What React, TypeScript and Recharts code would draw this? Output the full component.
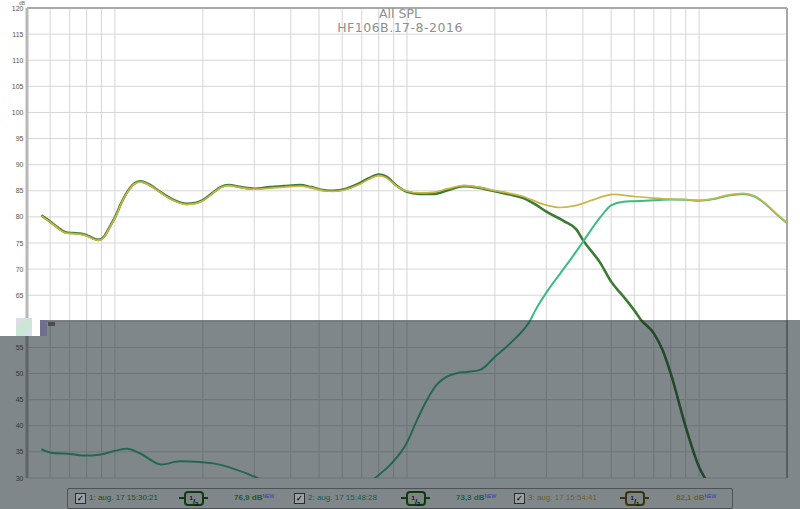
import { LineChart, Line, XAxis, YAxis, CartesianGrid, ReferenceLine } from "recharts"

// axis ticks
const freqTicks = [50, 60, 70, 80, 90, 100, 200, 300, 400, 500, 600, 700, 800, 900, 1000, 2000, 3000, 4000, 5000, 6000, 7000, 8000, 9000, 10000, 20000]
const freqLabels = ["50", "60", "70", "80", "90", "100", "200", "300", "400", "500", "600", "700", "800", "900", "1k", "2k", "3k", "4k", "5k", "6k", "7k", "8k", "9k", "10k", "20,0k Hz"]
const dbTicks = [30, 35, 40, 45, 50, 55, 60, 65, 70, 75, 80, 85, 90, 95, 100, 105, 110, 115, 120]

// 1: woofer (dark green)
const wooferFreq = [56, 60, 64, 68, 72, 76, 80, 84, 88, 92, 96, 100, 105, 110, 116, 122, 130, 142, 158, 176, 190, 200, 215, 230, 245, 270, 300, 340, 380, 430, 470, 520, 560, 620, 680, 740, 800, 850, 920, 1000, 1100, 1230, 1380, 1560, 1750, 2000, 2250, 2500, 2750, 3000, 3470, 3800, 4000, 4600, 5000, 5500, 6000, 6300, 7000, 7500, 8000, 9000, 10000, 10700, 11500]
const wooferDb = [80.3, 79.1, 77.9, 77.0, 76.9, 76.8, 76.5, 75.9, 75.6, 76.3, 78.1, 79.9, 82.6, 84.7, 86.3, 86.8, 86.3, 84.9, 83.3, 82.5, 82.7, 83.2, 84.5, 85.7, 86.1, 85.7, 85.4, 85.7, 85.9, 86.1, 85.7, 85.1, 85.0, 85.4, 86.3, 87.4, 88.1, 87.7, 86.0, 84.8, 84.4, 84.4, 85.1, 85.9, 85.6, 84.9, 84.3, 83.6, 82.4, 81.0, 79.1, 77.6, 75.6, 71.1, 67.6, 64.8, 62.1, 60.4, 57.7, 54.5, 50.0, 39.8, 32.1, 29.0, 25.0]

// 2: tweeter (teal)
const tweeterFreq = [56, 61, 70, 80, 87, 100, 110, 122, 144, 167, 200, 217, 254, 305, 350, 450, 600, 700, 777, 875, 1000, 1080, 1169, 1260, 1369, 1490, 1603, 1780, 2000, 2316, 2643, 2750, 3000, 3350, 3700, 4000, 4600, 5000, 5500, 6000, 7000, 8000, 9000, 10000, 11200, 12600, 14200, 15500, 17100, 18500, 20000]
const tweeterDb = [35.5, 34.8, 34.6, 34.3, 34.4, 35.2, 35.6, 34.7, 32.6, 33.2, 33.0, 32.8, 31.8, 30.1, 28.5, 27.0, 26.8, 28.0, 30.0, 32.5, 36.8, 41.0, 44.9, 47.8, 49.4, 50.1, 50.3, 50.7, 53.2, 56.4, 60.2, 62.1, 65.5, 69.2, 72.5, 75.2, 80.0, 82.2, 82.9, 83.0, 83.2, 83.35, 83.3, 83.1, 83.4, 84.1, 84.4, 83.9, 82.2, 80.4, 78.8]

// 3: sum (olive / mustard)
const sumFreq = [56, 60, 64, 68, 72, 76, 80, 84, 88, 92, 96, 100, 105, 110, 116, 122, 130, 142, 158, 176, 190, 200, 215, 230, 245, 270, 300, 340, 380, 430, 470, 520, 560, 620, 680, 740, 800, 850, 920, 1000, 1100, 1230, 1380, 1560, 1750, 2000, 2250, 2500, 2900, 3350, 3800, 4300, 5100, 6000, 7000, 8000, 9000, 10000, 11200, 12600, 14200, 15500, 17100, 18500, 20000]
const sumDb = [80.2, 79.0, 77.8, 76.9, 76.8, 76.7, 76.4, 75.8, 75.5, 76.2, 78.0, 79.8, 82.5, 84.6, 86.2, 86.7, 86.2, 84.8, 83.2, 82.4, 82.6, 83.1, 84.4, 85.6, 86.0, 85.6, 85.3, 85.5, 85.7, 85.9, 85.6, 85.0, 84.9, 85.3, 86.1, 87.2, 87.9, 87.5, 85.9, 84.9, 84.6, 84.7, 85.4, 86.0, 85.7, 85.0, 84.5, 83.9, 82.5, 81.8, 82.2, 83.2, 84.3, 83.9, 83.6, 83.4, 83.3, 83.2, 83.5, 84.2, 84.5, 84.0, 82.3, 80.5, 78.9]

const toPoints = (fs: number[], vs: number[]) => fs.map((f, i) => ({ f, db: vs[i] }))

const woofer = toPoints(wooferFreq, wooferDb)
const tweeter = toPoints(tweeterFreq, tweeterDb)
const sum = toPoints(sumFreq, sumDb)

const XTick = (props: any) => {
  const { x, y, payload } = props
  const i = freqTicks.indexOf(payload.value)
  const last = payload.value === 20000
  return (
    <text x={x + (last ? -4 : 0)} y={y + 9} textAnchor="middle" fontSize={8} fontWeight="bold" fill="#111" fontFamily="Liberation Sans">
      {freqLabels[i]}
    </text>
  )
}

const YTick = (props: any) => {
  const { x, y, payload } = props
  return (
    <text x={x} y={y + 2.5} textAnchor="end" fontSize={7} fill="#555" fontFamily="Liberation Sans">
      {payload.value}
    </text>
  )
}

const legendItems = [
  { label: "1: aug. 17 15:30:21", frac: ["1", "3"], level: "76,9 dB", color: "#1f4a1c", valColor: "#1d5a1d", box: "#103a10", left: 7, icon: 111, val: 166 },
  { label: "2: aug. 17 15:48:28", frac: ["1", "3"], level: "73,3 dB", color: "#1c5a48", valColor: "#1c6048", box: "#103a10", left: 226, icon: 333, val: 388 },
  { label: "3: aug. 17 15:54:41", frac: ["1", "1"], level: "82,1 dB", color: "#6a6228", valColor: "#6a6228", box: "#3a3410", left: 446, icon: 552, val: 608 },
]

function Legend() {
  return (
    <div style={{ position: "absolute", left: 67, top: 488, width: 664, height: 19, border: "1px solid #4c5255", borderRadius: 2, fontFamily: "Liberation Sans", fontSize: 8 }}>
      {legendItems.map((it) => (
        <div key={it.label}>
          <div style={{ position: "absolute", left: it.left, top: 4, width: 9, height: 9, border: "1px solid #2a2e30", background: "#9aa0a3", fontSize: 8, lineHeight: "9px", textAlign: "center", color: "#111", fontWeight: "bold" }}>✓</div>
          <div style={{ position: "absolute", left: it.left + 14, top: 4, color: it.color, whiteSpace: "nowrap" }}>{it.label}</div>
          <div style={{ position: "absolute", left: it.icon, top: 2, width: 29, height: 14 }}>
            <div style={{ position: "absolute", left: 0, top: 6, width: 29, height: 1.5, background: it.box }} />
            <div style={{ position: "absolute", left: 5, top: 0, width: 16, height: 11, border: `2px solid ${it.box}`, borderRadius: 4, background: "#7d8387", color: "#111", fontWeight: "bold", fontSize: 8, lineHeight: "11px", textAlign: "center" }}>
              <sup style={{ fontSize: 6 }}>{it.frac[0]}</sup>/<sub style={{ fontSize: 6 }}>{it.frac[1]}</sub>
            </div>
          </div>
          <div style={{ position: "absolute", left: it.val, top: 4, color: it.valColor, whiteSpace: "nowrap", fontWeight: "bold" }}>
            {it.level}
            <span style={{ color: "#2b3aa8", fontSize: 5, verticalAlign: "top", fontWeight: "normal" }}>NEW</span>
          </div>
        </div>
      ))}
    </div>
  )
}

export default function App() {
  return (
    <div style={{ position: "absolute", left: 0, top: 0, width: 800, height: 509, background: "#fff", overflow: "hidden" }}>
      <LineChart width={800} height={509} margin={{ top: 8, right: 13, bottom: 31, left: 0 }}>
        <CartesianGrid stroke="#d6d6d6" strokeWidth={1} />
        <XAxis
          dataKey="f"
          type="number"
          scale="log"
          domain={[50, 20000]}
          ticks={freqTicks}
          allowDataOverflow
          axisLine={false}
          tickLine={false}
          tickSize={0}
          tickMargin={0}
          height={0}
          interval={0}
          tick={<XTick />}
        />
        <YAxis
          type="number"
          domain={[30, 120]}
          ticks={dbTicks}
          allowDataOverflow
          width={27}
          interval={0}
          tickLine={false}
          tickSize={0}
          tickMargin={3.5}
          axisLine={{ stroke: "#b8b8b8", strokeWidth: 3 }}
          tick={<YTick />}
        />
        <ReferenceLine y={120} stroke="#a8a8a8" strokeWidth={2} />
        <ReferenceLine x={20000} stroke="#a8a8a8" strokeWidth={2} />
        <Line data={woofer} dataKey="db" type="monotone" stroke="#3b7b34" strokeWidth={2.6} dot={false} isAnimationActive={false} />
        <Line data={tweeter} dataKey="db" type="monotone" stroke="#3dbb84" strokeWidth={2} dot={false} isAnimationActive={false} />
        <Line data={sum} dataKey="db" type="monotone" stroke="#c9b646" strokeWidth={1.7} dot={false} isAnimationActive={false} />
      </LineChart>
      <div style={{ position: "absolute", left: 19, top: 0, fontSize: 5, color: "#666", fontFamily: "Liberation Sans" }}>dB</div>
      <div style={{ position: "absolute", left: 0, top: 7, width: 800, height: 13, textAlign: "center", color: "#8e8e8e", fontFamily: "DejaVu Sans", fontSize: 12.5, lineHeight: "13px" }}>
        All SPL
      </div>
      <div style={{ position: "absolute", left: 0, top: 21, width: 800, height: 13, textAlign: "center", color: "#8e8e8e", fontFamily: "DejaVu Sans", fontSize: 12.5, lineHeight: "13px", letterSpacing: 0.5 }}>
        HF106B.17-8-2016
      </div>
      {/* dimmed lower part */}
      <div style={{ position: "absolute", left: 0, top: 320, width: 800, height: 189, background: "rgba(15,28,36,0.53)" }} />
      <div style={{ position: "absolute", left: 0, top: 320, width: 40, height: 16, background: "#fff" }} />
      <div style={{ position: "absolute", left: 16, top: 318, width: 16, height: 18, background: "linear-gradient(135deg,#e8d8f0,#c8e8d0,#d8e0f8)" }} />
      <div style={{ position: "absolute", left: 40, top: 320, width: 7, height: 16, background: "#6f708e" }} />
      <div style={{ position: "absolute", left: 48, top: 322, width: 7, height: 4, background: "#4a4d55" }} />
      <Legend />
    </div>
  )
}
